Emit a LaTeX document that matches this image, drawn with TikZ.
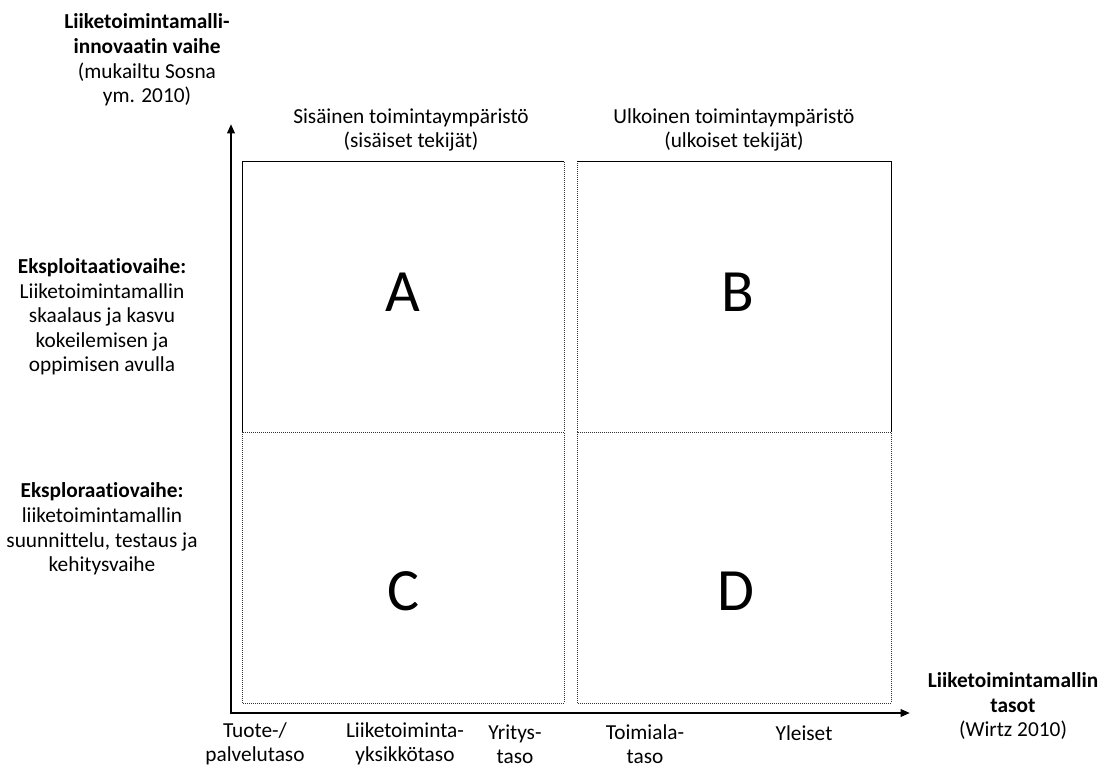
\documentclass[tikz,border=0pt]{standalone}
\usepackage{fontspec}
\setmainfont{Carlito}[Ligatures=NoCommon]
\usetikzlibrary{arrows.meta}

\begin{document}
\begin{tikzpicture}[x=0.75pt,y=-0.75pt,
  every node/.style={font=\fontsize{16}{18.4}\selectfont,align=center,inner sep=0pt},
  axis/.style={line width=2pt,-{Triangle[length=7pt,width=5.5pt]}},
  quad/.style={line width=0.5pt,black!80,densely dotted},
  edge/.style={line width=0.6pt,black},
  letter/.style={font=\fontsize{45}{50}\selectfont}]
\useasboundingbox (0,0) rectangle (1103,767);
% axes
\coordinate (origin) at (231,713);
\coordinate (ytip) at (231,124);
\coordinate (xtip) at (910,713);
\draw[axis] ([xshift=-1pt]origin) -- (xtip);
\draw[axis] ([yshift=-1pt]origin) -- (ytip);
% quadrants
\draw[quad] (242,161) rectangle (564,432);
\draw[quad] (242,432) rectangle (564,703);
\draw[quad] (577,161) rectangle (891,432);
\draw[quad] (577,432) rectangle (891,703);
\draw[edge] (242,432) -- (242,161) -- (564,161);
\draw[edge] (577,161) -- (891,161) -- (891,432);
\node[letter] (qa) at (403,292) {A};
\node[letter] (qb) at (738,292) {B};
\node[letter] (qc) at (403,591) {C};
\node[letter] (qd) at (736,591) {D};
% column headings
\node (sis) at (411,130) {Sisäinen toimintaympäristö\\(sisäiset tekijät)};
\node (ulk) at (734,130) {Ulkoinen toimintaympäristö\\(ulkoiset tekijät)};
% y axis title
\node (ytitle) at (147,60) {\textbf{Liiketoimintamalli-}\\\textbf{innovaatin vaihe}\\(mukailtu Sosna\\ym. 2010)};
% phases
\node (explo) at (102,317) {\textbf{Eksploitaatiovaihe:}\\Liiketoimintamallin\\skaalaus ja kasvu\\kokeilemisen ja\\oppimisen avulla};
\node (explr) at (102,529) {\textbf{Eksploraatiovaihe:}\\liiketoimintamallin\\suunnittelu, testaus ja\\kehitysvaihe};
% x axis levels
\node (tuote) at (255,744) {Tuote-/\\palvelutaso};
\node (lty) at (405,744) {Liiketoiminta-\\yksikkötaso};
\node (yri) at (515,744) {Yritys-\\taso};
\node (toi) at (645,744) {Toimiala-\\taso};
\node (yle) at (804,733) {Yleiset};
% x axis title
\node (xtitle) at (1013,706) {\textbf{Liiketoimintamallin}\\\textbf{tasot}\\(Wirtz 2010)};
\end{tikzpicture}
\end{document}
